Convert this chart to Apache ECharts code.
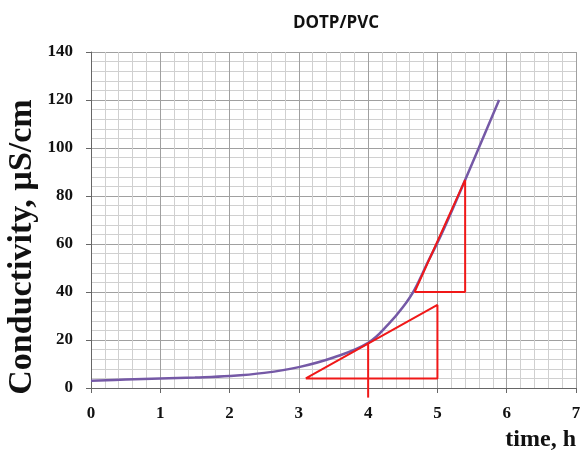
<!DOCTYPE html>
<html>
<head>
<meta charset="utf-8">
<script src="https://cdn.jsdelivr.net/npm/echarts@6/dist/echarts.min.js"></script>
<style>
  html, body { margin: 0; padding: 0; background: #fff; }
  #chart { width: 582px; height: 457px; }
</style>
</head>
<body>
<div id="chart"></div>
<script>
// conductivity curve
const timeH = [0, 0.5, 1, 1.5, 2, 2.5, 3, 3.5, 4, 4.3, 4.5, 4.67, 4.87, 5.05, 5.4, 5.89];
const conductivity = [3, 3.5, 4, 4.4, 5, 6.3, 8.7, 12.7, 18.8, 26.8, 33.6, 41, 53, 63.5, 86.7, 120];

// tangent triangles (red)
const tangentLow = [[3.1, 4], [5, 34.6], [5, 4], [3.1, 4]];
const markerAt4 = [[4, 18.8], [4, -4]];
const tangentHigh = [[4.67, 40], [5.4, 86.7], [5.4, 40], [4.67, 40]];

const xTicks = [0, 1, 2, 3, 4, 5, 6, 7];
const yTicks = [0, 20, 40, 60, 80, 100, 120, 140];

const chart = echarts.init(document.getElementById("chart"));

const labelFont = {
  fontFamily: "Liberation Serif",
  fontWeight: "bold",
  fontSize: 17,
  color: "#111",
};

const redLine = (data) => ({
  type: "line",
  data: data,
  showSymbol: false,
  clip: false,
  lineStyle: { color: "#f01818", width: 2 },
  z: 3,
});

const option = {
  animation: false,
  title: {
    text: "DOTP/PVC",
    left: 331,
    top: 10,
    textAlign: "center",
    textStyle: {
      fontFamily: "Open Sans",
      fontWeight: "bold",
      fontSize: 17,
      color: "#111",
    },
  },
  // y axis title, placed by hand (it sits below the plot's middle)
  graphic: [
    {
      type: "text",
      x: 22,
      y: 247,
      rotation: Math.PI / 2,
      style: {
        text: "Conductivity, µS/cm",
        font: "bold 34px 'Liberation Serif'",
        fill: "#111",
        align: "center",
        verticalAlign: "middle",
      },
    },
  ],
  grid: {
    left: 91,
    right: 6,
    top: 52,
    bottom: 69,
    outerBoundsMode: "none",
  },
  xAxis: {
    type: "value",
    min: xTicks[0],
    max: xTicks[xTicks.length - 1],
    interval: 1,
    name: "time, h",
    nameLocation: "end",
    nameGap: 0,
    nameTextStyle: {
      fontFamily: "Liberation Serif",
      fontWeight: "bold",
      fontSize: 24,
      color: "#111",
      align: "right",
      verticalAlign: "top",
      padding: [40, 0, 0, 0],
    },
    axisLine: { lineStyle: { color: "#666", width: 1 } },
    axisTick: { show: true, length: 5, lineStyle: { color: "#666" } },
    axisLabel: Object.assign({ margin: 17 }, labelFont),
    splitLine: { show: true, lineStyle: { color: "#a0a0a0", width: 1 } },
    minorTick: { show: true, splitNumber: 5, length: 0 },
    minorSplitLine: { show: true, lineStyle: { color: "#d0d0d0", width: 1 } },
  },
  yAxis: {
    type: "value",
    min: yTicks[0],
    max: yTicks[yTicks.length - 1],
    interval: 20,
    axisLine: { show: true, lineStyle: { color: "#666", width: 1 } },
    axisTick: { show: true, length: 5, lineStyle: { color: "#666" } },
    axisLabel: Object.assign({ margin: 18 }, labelFont),
    splitLine: { show: true, lineStyle: { color: "#a0a0a0", width: 1 } },
    minorTick: { show: true, splitNumber: 5, length: 0 },
    minorSplitLine: { show: true, lineStyle: { color: "#d0d0d0", width: 1 } },
  },
  series: [
    {
      type: "line",
      data: timeH.map((t, i) => [t, conductivity[i]]),
      smooth: 0.4,
      showSymbol: false,
      lineStyle: { color: "#7559a6", width: 2.5 },
      z: 2,
    },
    redLine(tangentLow),
    redLine(markerAt4),
    redLine(tangentHigh),
  ],
};

chart.setOption(option);
</script>
</body>
</html>
